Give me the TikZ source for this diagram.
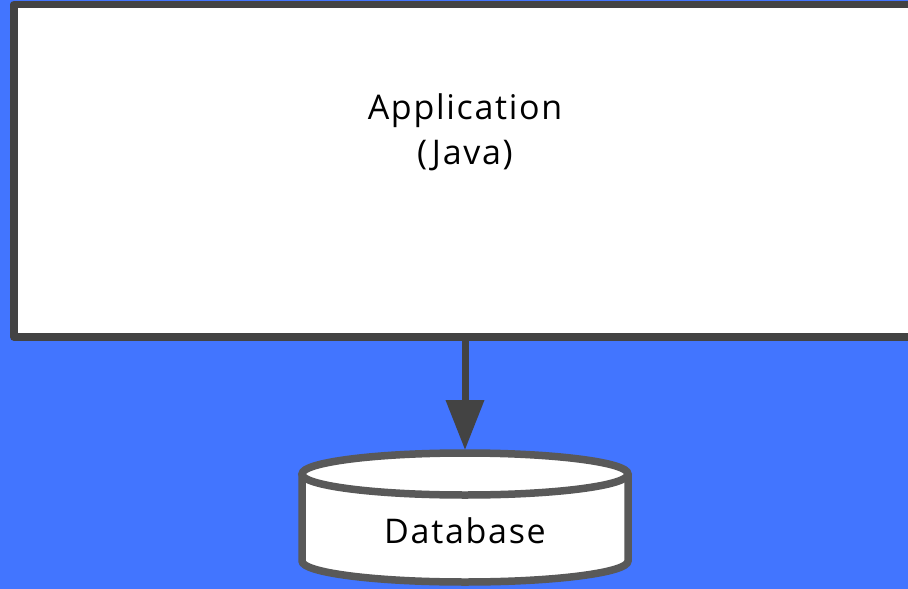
\documentclass[tikz,border=0pt]{standalone}
\usepackage{fontspec}
\setmainfont{Open Sans}[LetterSpace=5]
\usetikzlibrary{arrows.meta}

\definecolor{bgblue}{RGB}{66,117,255}
\definecolor{boxline}{RGB}{67,67,67}
\definecolor{dbline}{RGB}{89,89,89}

\tikzset{
        appbox/.style={rectangle,draw=boxline,fill=white,line width=7.5pt,line join=round,
                minimum width=902pt,minimum height=332.5pt,inner sep=0pt},
        dbbody/.style={draw=dbline,fill=white,line width=7.5pt},
        txt/.style={font=\fontsize{34}{45}\selectfont,align=center,inner sep=0pt},
        flow/.style={draw=boxline,line width=7pt,-{Triangle[width=37pt,length=50pt]}}
}

\begin{document}
\begin{tikzpicture}[x=1pt,y=-1pt]
        \useasboundingbox (0,0) rectangle (908,589);
        \clip (0,0) rectangle (908,589);
        \fill[bgblue] (0,0) rectangle (908,589);

        \node[appbox] (App) at (465,170.75) {};
        \node[txt] (AppText) at (465,132) {Application\\(Java)};

        % database cylinder
        \path[dbbody] (302,474) -- (302,561) arc[start angle=180,end angle=0,x radius=163,y radius=21]
                -- (628,474);
        \path[dbbody] (465,474) ellipse[x radius=163,y radius=21];
        \coordinate (DBtop) at (465,450);
        \node[txt,anchor=base] (DB) at (465,543) {Database};

        \draw[flow] (App.south) -- (DBtop);

    \end{tikzpicture}
\end{document}
